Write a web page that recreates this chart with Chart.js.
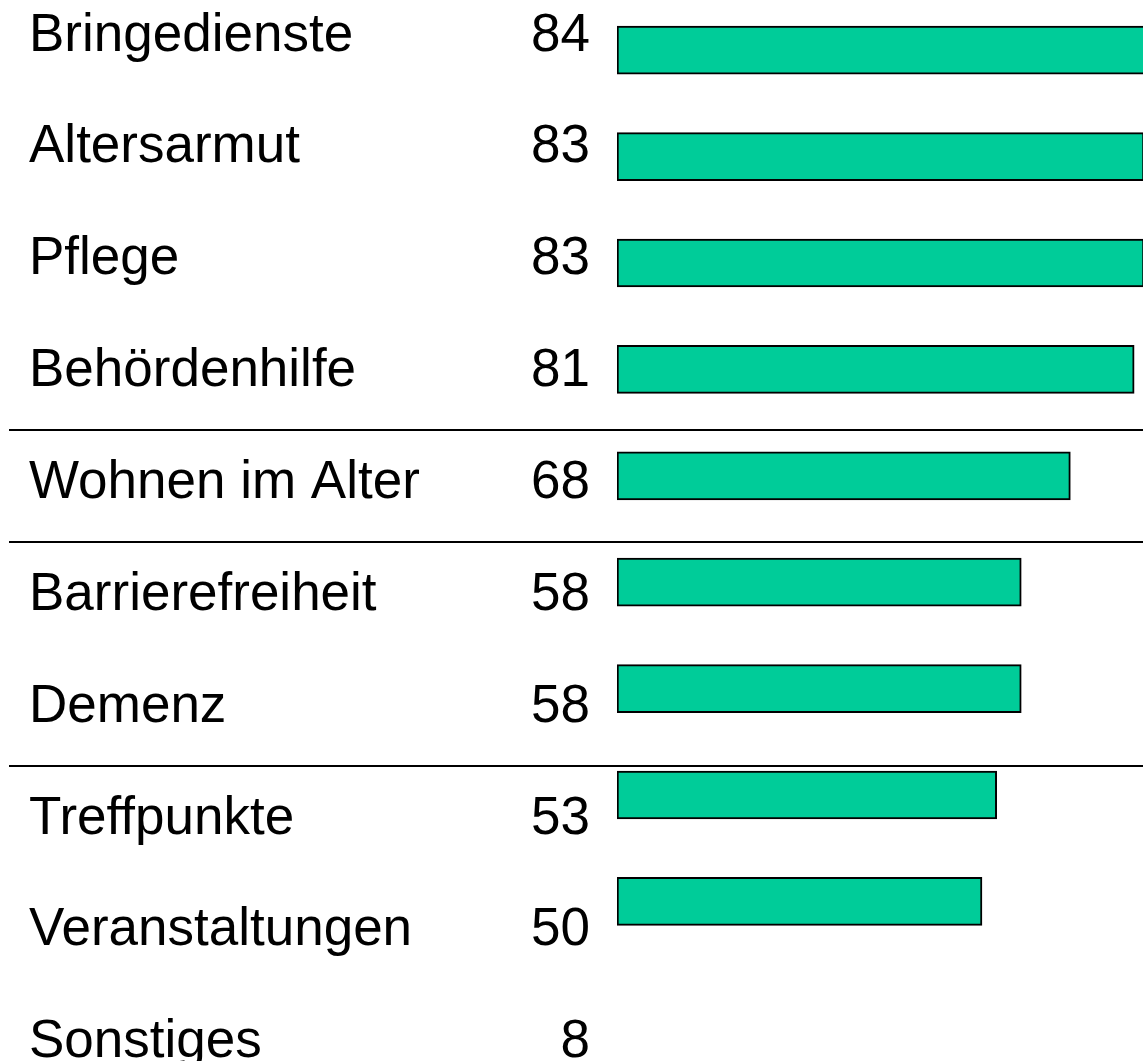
<!DOCTYPE html>
<html>
<head>
<meta charset="utf-8">
<script src="https://cdn.jsdelivr.net/npm/chart.js@4/dist/chart.umd.min.js"></script>
<style>
  html, body { margin: 0; padding: 0; background: #ffffff; overflow: hidden; }
  #c { display: block; margin-top: -3px; }
</style>
</head>
<body>
<canvas id="c" width="1143" height="1064"></canvas>
<script>
// ---- data ----
const categories = ["Bringedienste", "Altersarmut", "Pflege", "Behördenhilfe", "Wohnen im Alter",
                    "Barrierefreiheit", "Demenz", "Treffpunkte", "Veranstaltungen", "Sonstiges"];
const values = [84, 83, 83, 81, 68, 58, 58, 53, 50, 8];
// the reference draws a bar for every item except "Sonstiges"
const barCategories = categories.slice(0, 9);
const barValues = values.slice(0, 9);
// group separators are drawn before these items
const groupStarts = ["Wohnen im Alter", "Barrierefreiheit", "Treffpunkte"];

// ---- styling ----
const FONT = '53px "Liberation Sans", Arial, Helvetica, sans-serif';
const BAR_FILL = '#00CC99';
const AXIS_BASE = -24.35;          // truncated value axis as in the reference
const AXIS_MAX = 82.8;

const textPlugin = {
  id: 'rowText',
  afterDatasetsDraw(chart) {
    const ctx = chart.ctx;
    const yl = chart.scales.yl;
    ctx.save();
    // separators
    ctx.strokeStyle = '#000000';
    ctx.lineWidth = 2;
    groupStarts.forEach(name => {
      const k = categories.indexOf(name);
      const y = Math.round(yl.getPixelForValue(k - 0.5) - 12);
      ctx.beginPath();
      ctx.moveTo(9, y);
      ctx.lineTo(chart.width, y);
      ctx.stroke();
    });
    // labels and values
    ctx.fillStyle = '#000000';
    ctx.font = FONT;
    ctx.textBaseline = 'alphabetic';
    categories.forEach((name, k) => {
      const y = yl.getPixelForValue(k);
      ctx.textAlign = 'left';
      ctx.fillText(name, 29, y);
      ctx.textAlign = 'right';
      ctx.fillText(String(values[k]), 590, y);
    });
    ctx.restore();
  }
};

new Chart(document.getElementById('c'), {
  type: 'bar',
  data: {
    labels: barCategories,
    datasets: [{
      data: barValues,
      base: AXIS_BASE,
      backgroundColor: BAR_FILL,
      borderColor: '#000000',
      borderWidth: 2,
      borderSkipped: false,
      barThickness: 48
    }]
  },
  options: {
    indexAxis: 'y',
    responsive: false,
    animation: false,
    events: [],
    layout: { padding: { left: 617, right: 0, top: 0, bottom: 106.4 } },
    plugins: { legend: { display: false }, tooltip: { enabled: false }, title: { display: false } },
    scales: {
      x: { type: 'linear', min: AXIS_BASE, max: AXIS_MAX, display: false },
      y: { type: 'category', offset: true, display: false },
      yl: { type: 'linear', reverse: true, offset: false, min: -0.4792, max: 8.0823, display: false }
    }
  },
  plugins: [textPlugin]
});
</script>
</body>
</html>
